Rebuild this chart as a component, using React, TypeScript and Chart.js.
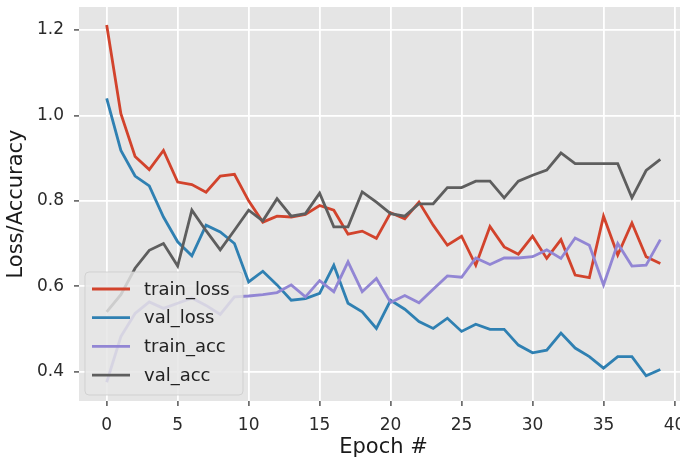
import React, { useEffect, useRef } from "react";
import { Chart, registerables } from "chart.js";

Chart.register(...registerables);

const epochs: number[] = Array.from({ length: 40 }, (_, i) => i);

const trainLoss: number[] = [
  1.212, 1.004, 0.904, 0.873, 0.918, 0.844, 0.838, 0.82, 0.858, 0.862,
  0.8, 0.75, 0.764, 0.762, 0.768, 0.789, 0.778, 0.722, 0.729, 0.712,
  0.772, 0.758, 0.797, 0.743, 0.696, 0.717, 0.649, 0.74, 0.692, 0.675,
  0.717, 0.665, 0.709, 0.626, 0.62, 0.764, 0.673, 0.748, 0.669, 0.653,
];
const valLoss: number[] = [
  1.04, 0.918, 0.858, 0.835, 0.762, 0.704, 0.671, 0.743, 0.727, 0.7,
  0.61, 0.635, 0.603, 0.567, 0.571, 0.583, 0.649, 0.56, 0.54, 0.501,
  0.567, 0.546, 0.517, 0.501, 0.525, 0.494, 0.511, 0.499, 0.499, 0.462,
  0.444, 0.45, 0.49, 0.455, 0.435, 0.408, 0.435, 0.435, 0.39, 0.405,
];
const trainAcc: number[] = [
  0.375, 0.482, 0.536, 0.563, 0.548, 0.56, 0.572, 0.555, 0.534, 0.575,
  0.577, 0.58, 0.585, 0.603, 0.575, 0.613, 0.587, 0.657, 0.587, 0.618,
  0.562, 0.578, 0.561, 0.593, 0.624, 0.621, 0.666, 0.651, 0.666, 0.666,
  0.669, 0.685, 0.665, 0.713, 0.696, 0.603, 0.7, 0.647, 0.649, 0.709,
];
const valAcc: number[] = [
  0.54, 0.58, 0.642, 0.684, 0.7, 0.647, 0.778, 0.73, 0.685, 0.731,
  0.778, 0.753, 0.805, 0.764, 0.77, 0.818, 0.739, 0.739, 0.821, 0.797,
  0.77, 0.764, 0.793, 0.793, 0.831, 0.831, 0.846, 0.846, 0.807, 0.846,
  0.86, 0.872, 0.912, 0.887, 0.887, 0.887, 0.887, 0.807, 0.871, 0.897,
];

const seriesNames: string[] = ["train_loss", "val_loss", "train_acc", "val_acc"];
const seriesColors: string[] = ["#D2432C", "#2F80B2", "#9286D4", "#5E5E5E"];
const xTicks: number[] = [0, 5, 10, 15, 20, 25, 30, 35, 40];
const yTicks: number[] = [0.4, 0.6, 0.8, 1.0, 1.2];

const FONT = "DejaVu Sans";

const bgPlugin = {
  id: "plotBg",
  beforeDraw(chart: any) {
    const { ctx, chartArea } = chart;
    ctx.save();
    ctx.fillStyle = "#E5E5E5";
    ctx.fillRect(chartArea.left, chartArea.top, chartArea.right - chartArea.left, chartArea.bottom - chartArea.top);
    ctx.restore();
  },
};

const legendPlugin = {
  id: "innerLegend",
  afterDatasetsDraw(chart: any) {
    const { ctx, chartArea } = chart;
    const x0 = chartArea.left + 6;
    const y1 = chartArea.bottom - 6;
    const w = 158;
    const h = 123;
    const y0 = y1 - h;
    const r = 4;
    ctx.save();
    ctx.beginPath();
    ctx.moveTo(x0 + r, y0);
    ctx.lineTo(x0 + w - r, y0);
    ctx.quadraticCurveTo(x0 + w, y0, x0 + w, y0 + r);
    ctx.lineTo(x0 + w, y0 + h - r);
    ctx.quadraticCurveTo(x0 + w, y0 + h, x0 + w - r, y0 + h);
    ctx.lineTo(x0 + r, y0 + h);
    ctx.quadraticCurveTo(x0, y0 + h, x0, y0 + h - r);
    ctx.lineTo(x0, y0 + r);
    ctx.quadraticCurveTo(x0, y0, x0 + r, y0);
    ctx.closePath();
    ctx.fillStyle = "rgba(229,229,229,0.82)";
    ctx.fill();
    ctx.strokeStyle = "rgba(204,204,204,0.8)";
    ctx.lineWidth = 1;
    ctx.stroke();

    const ds = chart.data.datasets;
    ctx.font = `18px "${FONT}"`;
    ctx.textBaseline = "middle";
    ctx.textAlign = "left";
    for (let i = 0; i < ds.length; i++) {
      const cy = y0 + 17 + i * 28.7;
      ctx.beginPath();
      ctx.moveTo(x0 + 7, cy);
      ctx.lineTo(x0 + 45, cy);
      ctx.strokeStyle = ds[i].borderColor;
      ctx.lineWidth = 2.8;
      ctx.stroke();
      ctx.fillStyle = "#222";
      ctx.fillText(ds[i].label, x0 + 59, cy + 1);
    }
    ctx.restore();
  },
};

export default function App() {
  const ref = useRef<HTMLCanvasElement | null>(null);

  useEffect(() => {
    if (!ref.current) return;
    const seriesValues = [trainLoss, valLoss, trainAcc, valAcc];
    const chart = new Chart(ref.current, {
      type: "line",
      data: {
        datasets: seriesNames.map((name, i) => ({
          label: name,
          data: epochs.map((e, j) => ({ x: e, y: seriesValues[i][j] })),
          borderColor: seriesColors[i],
          backgroundColor: seriesColors[i],
          borderWidth: 2.8,
          pointRadius: 0,
          tension: 0,
          fill: false,
          order: 3 - i,
        })),
      },
      options: {
        responsive: false,
        animation: false,
        devicePixelRatio: 1,
        layout: { padding: { top: 7, left: 0, right: 0, bottom: 0 } },
        plugins: {
          legend: { display: false },
          tooltip: { enabled: false },
        },
        scales: {
          x: {
            type: "linear",
            min: -1.95,
            max: 40.95,
            afterBuildTicks: (scale: any) => {
              scale.ticks = xTicks.map((v) => ({ value: v }));
            },
            afterFit: (scale: any) => {
              scale.height = 63;
              scale.paddingLeft = 0;
              scale.paddingRight = 0;
            },
            grid: {
              color: "#FFFFFF",
              lineWidth: 1.8,
              tickColor: "#555555",
              tickLength: 5,
              tickWidth: 1.5,
            },
            border: { display: false },
            ticks: {
              color: "#2a2a2a",
              font: { family: FONT, size: 17 },
              padding: 9,
              maxRotation: 0,
              autoSkip: false,
            },
            title: {
              display: true,
              text: "Epoch #",
              color: "#1a1a1a",
              font: { family: FONT, size: 21 },
              padding: { top: 2, bottom: 4 },
            },
          },
          y: {
            type: "linear",
            min: 0.331,
            max: 1.254,
            afterBuildTicks: (scale: any) => {
              scale.ticks = yTicks.map((v) => ({ value: v }));
            },
            afterFit: (scale: any) => {
              scale.width = 79;
              scale.paddingTop = 0;
              scale.paddingBottom = 0;
            },
            grid: {
              color: "#FFFFFF",
              lineWidth: 1.8,
              tickColor: "#555555",
              tickLength: 5,
              tickWidth: 1.5,
            },
            border: { display: false },
            ticks: {
              color: "#2a2a2a",
              font: { family: FONT, size: 17 },
              padding: 10,
              callback: (v: any) => Number(v).toFixed(1),
            },
            title: {
              display: true,
              text: "Loss/Accuracy",
              color: "#1a1a1a",
              font: { family: FONT, size: 21 },
              padding: { top: 4, bottom: 4 },
            },
          },
        },
      },
      plugins: [bgPlugin, legendPlugin],
    });
    return () => chart.destroy();
  }, []);

  return (
    <div
      style={{
        position: "fixed",
        left: 0,
        top: 0,
        width: 680,
        height: 464,
        overflow: "hidden",
        background: "#FFFFFF",
      }}
    >
      <canvas ref={ref} width={688} height={464} style={{ display: "block", width: 688, height: 464 }} />
    </div>
  );
}
